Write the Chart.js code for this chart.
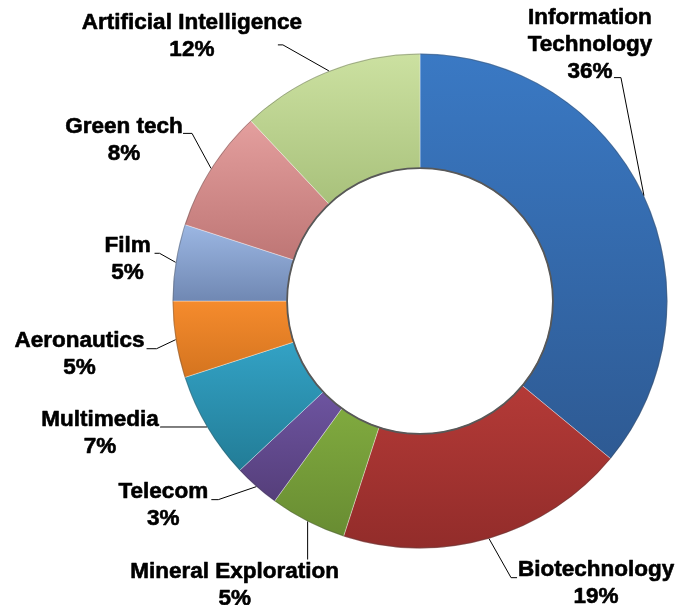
<!DOCTYPE html>
<html>
<head>
<meta charset="utf-8">
<script src="https://cdn.jsdelivr.net/npm/chart.js@4"></script>
<style>
html,body{margin:0;padding:0;background:#fff;}
#wrap{width:689px;height:605px;position:relative;}
</style>
</head>
<body>
<div id="wrap"><canvas id="c" width="689" height="605"></canvas></div>
<script>
// ---- data ----
const categories = ['Information Technology', 'Biotechnology', 'Mineral Exploration', 'Telecom', 'Multimedia', 'Aeronautics', 'Film', 'Green tech', 'Artificial Intelligence'];
const shares = [36, 19, 5, 3, 7, 5, 5, 8, 12];
const labelLines = [['Information', 'Technology'], ['Biotechnology'], ['Mineral Exploration'], ['Telecom'], ['Multimedia'], ['Aeronautics'], ['Film'], ['Green tech'], ['Artificial Intelligence']];

// ---- styles ----
const topColors = ['#3a79c4', '#b43a37', '#80aa3f', '#6d54a0', '#33a2c5', '#f58b2d', '#9cb7e3', '#e49f9e', '#cce1a1'];
const bottomColors = ['#2e5a93', '#922c2a', '#688c32', '#553e7a', '#227c96', '#d4741f', '#7088b3', '#be7675', '#a8c17b'];
// label layout relative to the anchor on the outer edge at each slice's mid-angle:
// [elbowDx, elbowDy, endDx, endDy, textDx, textDy]
const labelLayout = [
  [-23, -118, -30, -118, -54, -178],
  [22, 39, 28, 39, 107, 31],
  [0, 38, 0, 38, -73, 50],
  [-38, 13, -45, 13, -93, 5],
  [-47, 0, -47, 0, -107, -7],
  [-19, 9, -29, 9, -96, 1],
  [-16, -9, -21, -9, -48, -16],
  [-19, -35, -28, -35, -87, -42],
  [-46, -26, -51, -26, -137, -48]
];
const CUTOUT = 0.535;
const LINE_H = 27;
const FONT = 'bold 22.5px "Liberation Sans", Arial, sans-serif';

function sliceGradient(ctx) {
  const chart = ctx.chart;
  const a = chart.chartArea;
  const i = ctx.dataIndex;
  if (!a) return topColors[i];
  const cx = (a.left + a.right) / 2, cy = (a.top + a.bottom) / 2;
  const R = Math.min(a.right - a.left, a.bottom - a.top) / 2;
  const r = R * CUTOUT;
  const data = chart.data.datasets[0].data;
  const total = data.reduce((s, v) => s + v, 0);
  let before = 0;
  for (let k = 0; k < i; k++) before += data[k];
  const a0 = -Math.PI / 2 + before / total * 2 * Math.PI;
  const a1 = a0 + data[i] / total * 2 * Math.PI;
  let ymin = Infinity, ymax = -Infinity;
  for (let s = 0; s <= 40; s++) {
    const ang = a0 + (a1 - a0) * s / 40;
    for (const rad of [r, R]) {
      const y = cy + rad * Math.sin(ang);
      ymin = Math.min(ymin, y); ymax = Math.max(ymax, y);
    }
  }
  const g = chart.ctx.createLinearGradient(0, ymin, 0, ymax);
  g.addColorStop(0, topColors[i]);
  g.addColorStop(1, bottomColors[i]);
  return g;
}

const rimPlugin = {
  id: 'rim',
  afterDatasetsDraw(chart) {
    const meta = chart.getDatasetMeta(0);
    const el = meta.data[0];
    if (!el) return;
    const c = chart.ctx;
    c.save();
    c.beginPath();
    c.arc(el.x, el.y, el.innerRadius + 0.5, 0, Math.PI * 2);
    c.strokeStyle = '#585858';
    c.lineWidth = 1.8;
    c.stroke();
    c.beginPath();
    c.arc(el.x, el.y, el.outerRadius - 0.5, 0, Math.PI * 2);
    c.strokeStyle = 'rgba(60,60,60,0.35)';
    c.lineWidth = 1;
    c.stroke();
    c.restore();
  }
};

const labelPlugin = {
  id: 'outerLabels',
  afterDraw(chart) {
    const meta = chart.getDatasetMeta(0);
    const data = chart.data.datasets[0].data;
    const total = data.reduce((s, v) => s + v, 0);
    const c = chart.ctx;
    c.save();
    meta.data.forEach((el, i) => {
      const mid = (el.startAngle + el.endAngle) / 2;
      const ax = el.x + el.outerRadius * Math.cos(mid);
      const ay = el.y + el.outerRadius * Math.sin(mid);
      const L = labelLayout[i];
      c.beginPath();
      c.moveTo(ax, ay);
      c.lineTo(ax + L[0], ay + L[1]);
      c.lineTo(ax + L[2], ay + L[3]);
      c.strokeStyle = '#000';
      c.lineWidth = 1;
      c.stroke();
      const lines = labelLines[i].concat([Math.round(data[i] / total * 100) + '%']);
      c.font = FONT;
      c.textAlign = 'center';
      c.textBaseline = 'middle';
      lines.forEach((t, k) => {
        const tx = ax + L[4], ty = ay + L[5] + k * LINE_H;
        c.lineJoin = 'round';
        c.strokeStyle = 'rgba(255,255,255,0.9)';
        c.lineWidth = 3;
        c.strokeText(t, tx, ty);
        c.fillStyle = '#000';
        c.fillText(t, tx, ty);
        c.strokeStyle = '#000';
        c.lineWidth = 0.6;
        c.strokeText(t, tx, ty);
      });
    });
    c.restore();
  }
};

new Chart(document.getElementById('c'), {
  type: 'doughnut',
  data: {
    labels: categories,
    datasets: [{
      data: shares,
      backgroundColor: sliceGradient,
      borderColor: 'rgba(255,255,255,0.35)',
      borderWidth: 1
    }]
  },
  options: {
    responsive: false,
    animation: false,
    cutout: (CUTOUT * 100) + '%',
    layout: { padding: { left: 172, right: 21, top: 53, bottom: 56 } },
    plugins: {
      legend: { display: false },
      tooltip: { enabled: false }
    }
  },
  plugins: [rimPlugin, labelPlugin]
});
</script>
</body>
</html>
